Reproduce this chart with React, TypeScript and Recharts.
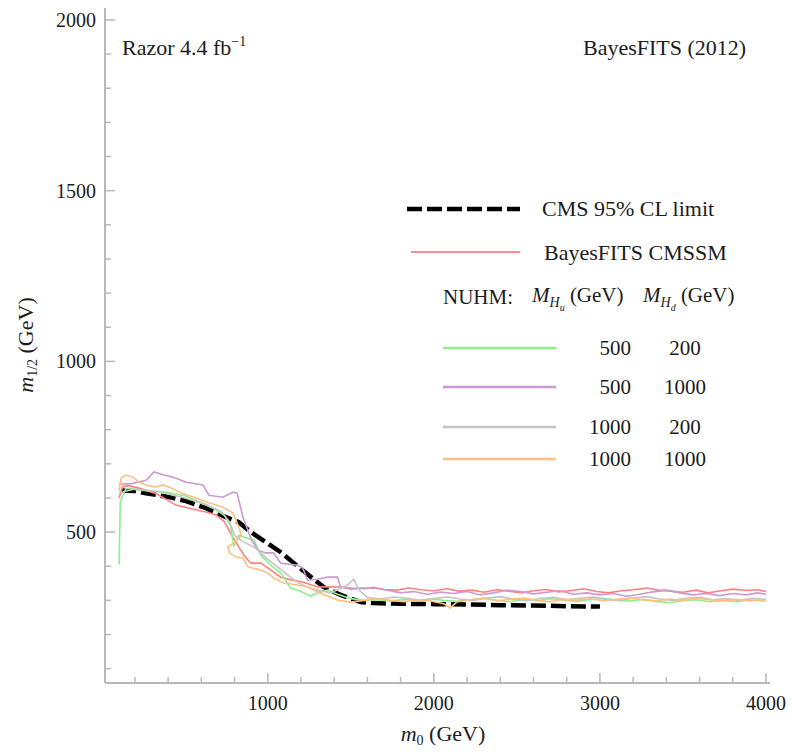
import { LineChart, Line, XAxis, YAxis } from 'recharts';

const FONT = '"Liberation Serif", "Times New Roman", serif';
const FRAME = '#b8b8b8';
const INK = '#1c1c1c';

// tick values
const xTicks = [200, 400, 600, 800, 1000, 1200, 1400, 1600, 1800, 2000, 2200, 2400, 2600, 2800, 3000, 3200, 3400, 3600, 3800, 4000];
const xLabels = [1000, 2000, 3000, 4000];
const yTicks = [100, 200, 300, 400, 500, 600, 700, 800, 900, 1000, 1100, 1200, 1300, 1400, 1500, 1600, 1700, 1800, 1900, 2000];
const yLabels = [500, 1000, 1500, 2000];

// [m0, m1/2] in GeV
const cmsLimit = [[117, 622], [200, 620], [267, 614], [400, 603], [508, 591], [628, 570], [748, 544], [826, 529], [898, 500], [988, 471], [1078, 441], [1150, 412], [1246, 374], [1336, 339], [1438, 316], [1559, 295], [1637, 292], [1800, 290], [2000, 289], [2200, 288], [2400, 286], [2600, 285], [2800, 283], [3000, 282]];

const cmssm = [[105, 600], [125, 632], [160, 636], [230, 628], [330, 612], [447, 579], [508, 572], [560, 566], [628, 559], [688, 550], [740, 530], [766, 506], [790, 485], [826, 456], [860, 430], [898, 409], [958, 409], [1000, 395], [1078, 368], [1140, 360], [1210, 354], [1300, 339], [1360, 340], [1438, 339], [1500, 336], [1580, 334], [1637, 338], [1700, 332], [1780, 330], [1850, 336], [1920, 331], [2000, 328], [2080, 334], [2150, 327], [2230, 330], [2300, 324], [2380, 331], [2450, 327], [2530, 322], [2600, 328], [2680, 332], [2750, 325], [2830, 329], [2900, 334], [2980, 326], [3050, 322], [3130, 328], [3200, 331], [3280, 336], [3350, 330], [3430, 327], [3500, 324], [3580, 330], [3650, 322], [3730, 328], [3800, 333], [3880, 329], [3950, 331], [4000, 326]];

const nuhm500_200 = [[105, 405], [112, 590], [147, 628], [250, 622], [387, 617], [508, 606], [628, 580], [688, 565], [740, 548], [775, 520], [795, 460], [826, 491], [870, 483], [916, 477], [958, 433], [1018, 403], [1078, 380], [1138, 336], [1200, 326], [1258, 312], [1300, 322], [1360, 330], [1420, 318], [1500, 305], [1580, 300], [1660, 302], [1740, 298], [1820, 303], [1900, 299], [1980, 304], [2060, 300], [2140, 297], [2220, 302], [2300, 306], [2380, 300], [2460, 296], [2540, 303], [2620, 299], [2700, 305], [2780, 301], [2860, 297], [2940, 302], [3020, 306], [3100, 300], [3180, 298], [3260, 303], [3340, 297], [3420, 293], [3500, 299], [3580, 302], [3660, 296], [3740, 300], [3820, 296], [3900, 301], [4000, 298]];

const nuhm500_1000 = [[105, 640], [180, 642], [267, 652], [315, 676], [370, 668], [429, 661], [508, 646], [610, 638], [646, 608], [730, 602], [790, 617], [815, 614], [830, 585], [850, 544], [900, 480], [940, 447], [988, 439], [1036, 439], [1078, 409], [1180, 403], [1210, 395], [1240, 359], [1300, 362], [1360, 368], [1420, 368], [1438, 339], [1500, 333], [1560, 336], [1637, 336], [1720, 330], [1800, 322], [1880, 326], [1960, 318], [2040, 324], [2120, 320], [2200, 326], [2280, 316], [2360, 322], [2440, 330], [2520, 326], [2600, 319], [2680, 324], [2760, 328], [2840, 318], [2920, 322], [3000, 316], [3080, 320], [3160, 312], [3240, 318], [3320, 325], [3400, 330], [3480, 322], [3560, 316], [3640, 320], [3720, 314], [3800, 320], [3880, 316], [3950, 322], [4000, 318]];

const nuhm1000_200 = [[105, 615], [200, 626], [350, 618], [500, 600], [620, 582], [720, 560], [770, 530], [800, 490], [850, 472], [920, 455], [1000, 420], [1080, 390], [1150, 362], [1230, 340], [1300, 330], [1380, 322], [1480, 345], [1517, 362], [1550, 330], [1600, 308], [1680, 304], [1760, 310], [1840, 306], [1920, 300], [2000, 305], [2080, 310], [2160, 304], [2240, 300], [2320, 307], [2400, 311], [2480, 304], [2560, 299], [2640, 306], [2720, 309], [2800, 302], [2880, 306], [2960, 310], [3040, 303], [3120, 300], [3200, 307], [3280, 311], [3360, 304], [3440, 300], [3520, 306], [3600, 309], [3680, 302], [3760, 305], [3840, 300], [3920, 306], [4000, 303]];

const nuhm1000_1000 = [[105, 620], [117, 658], [147, 667], [189, 661], [225, 646], [280, 636], [327, 632], [369, 638], [405, 632], [490, 612], [568, 600], [650, 585], [730, 573], [790, 556], [826, 515], [840, 490], [800, 470], [760, 456], [770, 440], [808, 427], [850, 424], [880, 398], [958, 389], [1000, 380], [1036, 365], [1096, 351], [1180, 345], [1240, 339], [1330, 318], [1420, 301], [1498, 295], [1580, 300], [1660, 305], [1740, 300], [1820, 296], [1900, 302], [1980, 298], [2060, 290], [2100, 278], [2140, 296], [2220, 302], [2300, 306], [2380, 299], [2460, 303], [2540, 307], [2620, 300], [2700, 296], [2780, 303], [2860, 300], [2940, 305], [3020, 299], [3100, 303], [3180, 307], [3260, 301], [3340, 298], [3420, 304], [3500, 300], [3580, 306], [3660, 302], [3740, 298], [3820, 303], [3900, 299], [4000, 302]];

const toPoints = (rows: number[][]) => rows.map(([x, y]) => ({ x, y }));

const NUHM_SERIES = [
  { name: 'NUHM 500/200', rows: nuhm500_200, color: '#8cf08c', mhu: '500', mhd: '200' },
  { name: 'NUHM 500/1000', rows: nuhm500_1000, color: '#cc99d0', mhu: '500', mhd: '1000' },
  { name: 'NUHM 1000/200', rows: nuhm1000_200, color: '#c4c4c4', mhu: '1000', mhd: '200' },
  { name: 'NUHM 1000/1000', rows: nuhm1000_1000, color: '#ffbf80', mhu: '1000', mhd: '1000' },
];

function BottomTick({ x, y, payload }: any) {
  const major = xLabels.includes(payload.value);
  return (
    <g>
      <line x1={x} x2={x} y1={y} y2={y - (major ? 10 : 6)} stroke={FRAME} strokeWidth={1.5} />
      {major && (
        <text x={x} y={y + 27} textAnchor="middle" fontSize={20} fontFamily={FONT} fill={INK}>
          {payload.value}
        </text>
      )}
    </g>
  );
}

function TopTick({ x, y, payload }: any) {
  const major = xLabels.includes(payload.value);
  return <line x1={x} x2={x} y1={y} y2={y + (major ? 10 : 6)} stroke={FRAME} strokeWidth={1.5} />;
}

function LeftTick({ x, y, payload }: any) {
  const major = yLabels.includes(payload.value);
  return (
    <g>
      <line x1={x} x2={x + (major ? 10 : 6)} y1={y} y2={y} stroke={FRAME} strokeWidth={1.5} />
      {major && (
        <text x={x - 9} y={y + 7} textAnchor="end" fontSize={20} fontFamily={FONT} fill={INK}>
          {payload.value}
        </text>
      )}
    </g>
  );
}

function RightTick({ x, y, payload }: any) {
  const major = yLabels.includes(payload.value);
  return <line x1={x} x2={x - (major ? 10 : 6)} y1={y} y2={y} stroke={FRAME} strokeWidth={1.5} />;
}

function Overlay() {
  const rowY = [348, 387, 427, 459];
  return (
    <svg width={792} height={752} style={{ position: 'absolute', left: 0, top: 0, pointerEvents: 'none' }} fontFamily={FONT} fill={INK}>
      <text x={122} y={55} fontSize={22}>
        Razor 4.4 fb<tspan dy={-9} fontSize={14}>−1</tspan>
      </text>
      <text x={583} y={55} fontSize={22}>BayesFITS (2012)</text>

      <line x1={407} x2={520} y1={209} y2={209} stroke="#000" strokeWidth={4.5} strokeDasharray="15 5" />
      <text x={542} y={216} fontSize={22}>CMS 95% CL limit</text>
      <line x1={411} x2={520} y1={252} y2={252} stroke="#ff8c8c" strokeWidth={2} />
      <text x={544} y={260} fontSize={22}>BayesFITS CMSSM</text>

      <text x={443} y={304} fontSize={21}>NUHM:</text>
      <text x={532} y={302} fontSize={21}>
        <tspan fontStyle="italic">M</tspan>
        <tspan dy={5} fontSize={14} fontStyle="italic">H</tspan>
        <tspan dy={4} fontSize={10} fontStyle="italic">u</tspan>
        <tspan dy={-9}> (GeV)</tspan>
      </text>
      <text x={643} y={302} fontSize={21}>
        <tspan fontStyle="italic">M</tspan>
        <tspan dy={5} fontSize={14} fontStyle="italic">H</tspan>
        <tspan dy={4} fontSize={10} fontStyle="italic">d</tspan>
        <tspan dy={-9}> (GeV)</tspan>
      </text>

      {NUHM_SERIES.map((s, i) => (
        <g key={s.name}>
          <line x1={443} x2={556} y1={rowY[i]} y2={rowY[i]} stroke={s.color} strokeWidth={2.5} />
          <text x={631} y={rowY[i] + 7} fontSize={21} textAnchor="end">{s.mhu}</text>
          <text x={685} y={rowY[i] + 7} fontSize={21} textAnchor="middle">{s.mhd}</text>
        </g>
      ))}

      <text transform="translate(33, 345) rotate(-90)" fontSize={22} textAnchor="middle">
        <tspan fontStyle="italic">m</tspan>
        <tspan dy={4} fontSize={14}>1/2</tspan>
        <tspan dy={-4}> (GeV)</tspan>
      </text>
      <text x={443} y={741} fontSize={22} textAnchor="middle">
        <tspan fontStyle="italic">m</tspan>
        <tspan dy={4} fontSize={14}>0</tspan>
        <tspan dy={-4}> (GeV)</tspan>
      </text>
    </svg>
  );
}

export default function App() {
  return (
    <div style={{ position: 'absolute', left: 0, top: 0, width: 792, height: 752, background: '#fff' }}>
      <LineChart width={792} height={752} margin={{ top: 8, right: 22, bottom: 0, left: 5 }}>
        <XAxis
          xAxisId={0}
          type="number"
          dataKey="x"
          domain={[20, 4024]}
          ticks={xTicks}
          interval={0}
          height={69}
          tickSize={0}
          tickMargin={0}
          tick={<BottomTick />}
          axisLine={{ stroke: FRAME, strokeWidth: 2 }}
          allowDataOverflow
        />
        <XAxis
          xAxisId="top"
          orientation="top"
          type="number"
          dataKey="x"
          domain={[20, 4024]}
          ticks={xTicks}
          interval={0}
          height={0}
          tickSize={0}
          tickMargin={0}
          tick={<TopTick />}
          axisLine={{ stroke: FRAME, strokeWidth: 2 }}
          allowDataOverflow
        />
        <YAxis
          yAxisId={0}
          type="number"
          domain={[58, 2035]}
          ticks={yTicks}
          interval={0}
          width={100}
          tickSize={0}
          tickMargin={0}
          tick={<LeftTick />}
          axisLine={{ stroke: FRAME, strokeWidth: 2 }}
          allowDataOverflow
        />
        <YAxis
          yAxisId="right"
          orientation="right"
          type="number"
          domain={[58, 2035]}
          ticks={yTicks}
          interval={0}
          width={0}
          tickSize={0}
          tickMargin={0}
          tick={<RightTick />}
          axisLine={{ stroke: FRAME, strokeWidth: 2 }}
          allowDataOverflow
        />
        <Line
          data={toPoints(cmsLimit)}
          dataKey="y"
          name="CMS 95% CL limit"
          type="linear"
          stroke="#000"
          strokeWidth={4.5}
          strokeDasharray="15 5"
          dot={false}
          isAnimationActive={false}
        />
        <Line
          data={toPoints(cmssm)}
          dataKey="y"
          name="BayesFITS CMSSM"
          type="linear"
          stroke="#ff8080"
          strokeWidth={1.6}
          dot={false}
          isAnimationActive={false}
        />
        {NUHM_SERIES.map((s) => (
          <Line
            key={s.name}
            data={toPoints(s.rows)}
            dataKey="y"
            name={s.name}
            type="linear"
            stroke={s.color}
            strokeWidth={1.6}
            dot={false}
            isAnimationActive={false}
          />
        ))}
      </LineChart>
      <Overlay />
    </div>
  );
}
